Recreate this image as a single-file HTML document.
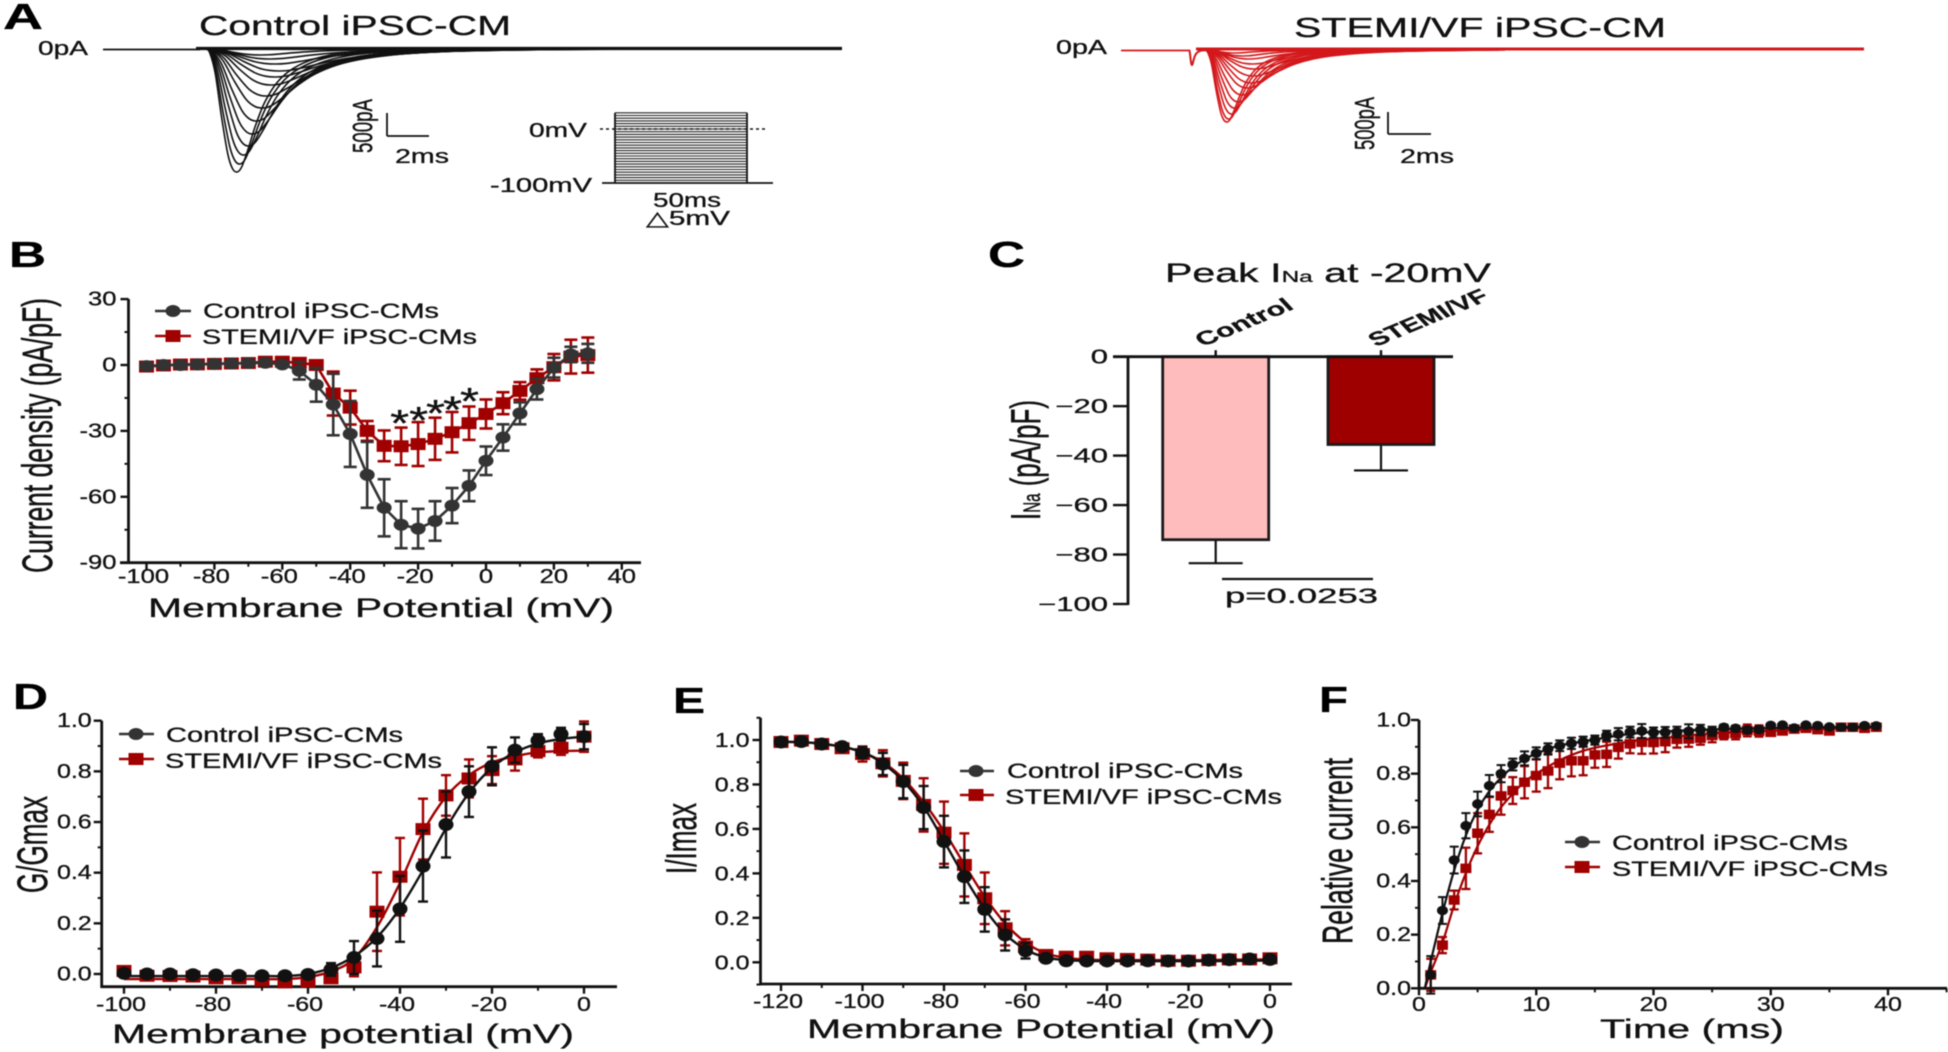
<!DOCTYPE html>
<html lang="en">
<head>
<meta charset="utf-8">
<title>iPSC-CM sodium current figure</title>
<style>
html,body{margin:0;padding:0;background:#fff;width:1948px;height:1052px;overflow:hidden}
svg{display:block;position:absolute;left:0;top:0;filter:blur(0.45px)}
text{font-family:"Liberation Sans",Arial,sans-serif;fill:#111;stroke:#111;stroke-width:.3px}
.pl{font-weight:bold;font-size:36px;fill:#000;stroke:#000}
</style>
</head>
<body>
<svg id="fig" xmlns="http://www.w3.org/2000/svg" width="1948" height="1052" viewBox="0 0 1948 1052">
<rect width="1948" height="1052" fill="#fff"/>

<!-- Panel A static -->
<text class="pl" x="3" y="29" textLength="40" lengthAdjust="spacingAndGlyphs">A</text>
<text x="199" y="35" font-size="28" textLength="312" lengthAdjust="spacingAndGlyphs">Control iPSC-CM</text>
<text x="38" y="55" font-size="20" textLength="50" lengthAdjust="spacingAndGlyphs">0pA</text>
<line x1="387" y1="113" x2="387" y2="136" stroke="#111" stroke-width="1.8"/>
<line x1="387" y1="136" x2="429" y2="136" stroke="#111" stroke-width="1.8"/>
<text transform="translate(372,153) rotate(-90) scale(1,1.45)" font-size="19" textLength="54" lengthAdjust="spacingAndGlyphs">500pA</text>
<text x="395" y="163" font-size="20" textLength="54" lengthAdjust="spacingAndGlyphs">2ms</text>
<text x="529" y="137" font-size="20" textLength="58" lengthAdjust="spacingAndGlyphs">0mV</text>
<text x="490" y="192" font-size="20" textLength="102" lengthAdjust="spacingAndGlyphs">-100mV</text>
<text x="653" y="207" font-size="20" textLength="68" lengthAdjust="spacingAndGlyphs">50ms</text>
<text font-size="20" x="646" y="225" textLength="84" lengthAdjust="spacingAndGlyphs" style="font-family:'Liberation Sans','DejaVu Sans',sans-serif">△5mV</text>
<text x="1294" y="37" font-size="28" textLength="372" lengthAdjust="spacingAndGlyphs">STEMI/VF iPSC-CM</text>
<text x="1056" y="54" font-size="20" textLength="51" lengthAdjust="spacingAndGlyphs">0pA</text>
<line x1="1388" y1="112" x2="1388" y2="134" stroke="#111" stroke-width="1.8"/>
<line x1="1388" y1="134" x2="1431" y2="134" stroke="#111" stroke-width="1.8"/>
<text transform="translate(1374,150) rotate(-90) scale(1,1.45)" font-size="19" textLength="53" lengthAdjust="spacingAndGlyphs">500pA</text>
<text x="1400" y="163" font-size="20" textLength="54" lengthAdjust="spacingAndGlyphs">2ms</text>

<!-- Panel B static -->
<text class="pl" x="9" y="267" textLength="37" lengthAdjust="spacingAndGlyphs">B</text>
<text transform="translate(52,573) rotate(-90) scale(1,1.65)" font-size="26" textLength="275" lengthAdjust="spacingAndGlyphs">Current density (pA/pF)</text>
<text x="148" y="617" font-size="27" textLength="466" lengthAdjust="spacingAndGlyphs">Membrane Potential (mV)</text>
<g>
<line x1="155" y1="311" x2="191" y2="311" stroke="#333" stroke-width="2.4"/>
<ellipse cx="173" cy="311" rx="7.5" ry="6" fill="#333"/>
<text x="203" y="318" font-size="21" textLength="236" lengthAdjust="spacingAndGlyphs">Control iPSC-CMs</text>
<line x1="155" y1="336" x2="191" y2="336" stroke="#a00000" stroke-width="2.4"/>
<rect x="165.5" y="330" width="15" height="12" fill="#a00000"/>
<text x="202" y="344" font-size="21" textLength="275" lengthAdjust="spacingAndGlyphs">STEMI/VF iPSC-CMs</text>
</g>

<!-- Panel C static -->
<text class="pl" x="988" y="267" textLength="37" lengthAdjust="spacingAndGlyphs">C</text>
<text x="1165" y="282" font-size="27" textLength="326" lengthAdjust="spacingAndGlyphs">Peak I<tspan font-size="16">Na</tspan> at -20mV</text>
<text transform="translate(1040,520) rotate(-90) scale(1,1.75)" font-size="24" textLength="120" lengthAdjust="spacingAndGlyphs">I<tspan font-size="14">Na</tspan> (pA/pF)</text>
<line x1="1222" y1="579" x2="1373" y2="579" stroke="#111" stroke-width="2.2"/>
<text x="1225" y="603" font-size="21" textLength="153" lengthAdjust="spacingAndGlyphs">p=0.0253</text>

<!-- Panel D static -->
<text class="pl" x="13" y="709" textLength="35" lengthAdjust="spacingAndGlyphs">D</text>
<text transform="translate(47,893) rotate(-90) scale(1,1.65)" font-size="26" textLength="97" lengthAdjust="spacingAndGlyphs">G/Gmax</text>
<text x="112" y="1043" font-size="27" textLength="462" lengthAdjust="spacingAndGlyphs">Membrane potential (mV)</text>
<g>
<line x1="119" y1="734" x2="154" y2="734" stroke="#333" stroke-width="2.4"/>
<ellipse cx="136" cy="734" rx="7.5" ry="6" fill="#333"/>
<text x="166" y="742" font-size="21" textLength="237" lengthAdjust="spacingAndGlyphs">Control iPSC-CMs</text>
<line x1="119" y1="759" x2="154" y2="759" stroke="#a00000" stroke-width="2.4"/>
<rect x="128.5" y="753" width="15" height="12" fill="#a00000"/>
<text x="165" y="768" font-size="21" textLength="277" lengthAdjust="spacingAndGlyphs">STEMI/VF iPSC-CMs</text>
</g>

<!-- Panel E static -->
<text class="pl" x="673" y="713" textLength="32" lengthAdjust="spacingAndGlyphs">E</text>
<text transform="translate(696,874) rotate(-90) scale(1,1.65)" font-size="26" textLength="71" lengthAdjust="spacingAndGlyphs">I/Imax</text>
<text x="807" y="1038" font-size="27" textLength="468" lengthAdjust="spacingAndGlyphs">Membrane Potential (mV)</text>
<g>
<line x1="960" y1="771" x2="994" y2="771" stroke="#333" stroke-width="2.4"/>
<ellipse cx="976" cy="771" rx="7.5" ry="6" fill="#333"/>
<text x="1007" y="778" font-size="21" textLength="236" lengthAdjust="spacingAndGlyphs">Control iPSC-CMs</text>
<line x1="960" y1="795" x2="994" y2="795" stroke="#a00000" stroke-width="2.4"/>
<rect x="968.5" y="789" width="15" height="12" fill="#a00000"/>
<text x="1005" y="804" font-size="21" textLength="277" lengthAdjust="spacingAndGlyphs">STEMI/VF iPSC-CMs</text>
</g>

<!-- Panel F static -->
<text class="pl" x="1319" y="712" textLength="29" lengthAdjust="spacingAndGlyphs">F</text>
<text transform="translate(1352,944) rotate(-90) scale(1,1.65)" font-size="26" textLength="186" lengthAdjust="spacingAndGlyphs">Relative current</text>
<text x="1600" y="1038" font-size="27" textLength="184" lengthAdjust="spacingAndGlyphs">Time (ms)</text>
<g>
<line x1="1565" y1="842" x2="1600" y2="842" stroke="#333" stroke-width="2.4"/>
<ellipse cx="1582" cy="842" rx="7.5" ry="6" fill="#333"/>
<text x="1612" y="850" font-size="21" textLength="236" lengthAdjust="spacingAndGlyphs">Control iPSC-CMs</text>
<line x1="1565" y1="867" x2="1600" y2="867" stroke="#a00000" stroke-width="2.4"/>
<rect x="1574.5" y="861" width="15" height="12" fill="#a00000"/>
<text x="1612" y="876" font-size="21" textLength="276" lengthAdjust="spacingAndGlyphs">STEMI/VF iPSC-CMs</text>
</g>
</svg>

<script>
/* ---------- Panel A data ---------- */
const aShapeU = [0,.12,.3,.5,.7,.85,1,1.15,1.35,1.6,1.9,2.3,2.8,3.5,4.5,6];
const aShapeV = [0,.03,.2,.55,.85,.97,1,.96,.82,.62,.43,.27,.16,.08,.03,0];
const aControlAmps = [123,115,106,97,85,72,59,47,36,28,22,15,10,6];
const aControlPeakTimes = [31,34,38,43,47,51,57,61,66,70,74,70,65,55];
const aStemiAmps = [72,69,64,58,52,45,38,33,26,19,14,9,6,3];
const aStemiPeakTimes = [22,24,27,30,34,38,43,47,49,50,48,44,38,30];
const aStemiArtifactAmp = [15];
const aStemiArtifactTime = [3];
const aProtocolLevels = [-100,-95,-90,-85,-80,-75,-70,-65,-60,-55,-50,-45,-40,-35,-30,-25,-20,-15,-10,-5,0,5,10,15,20,25,30];

/* ---------- Panel B data ---------- */
const bVoltages = [-100,-95,-90,-85,-80,-75,-70,-65,-60,-55,-50,-45,-40,-35,-30,-25,-20,-15,-10,-5,0,5,10,15,20,25,30];
const bControlMean = [-.5,0,0,.3,.5,.7,.9,1,.3,-2.6,-9,-18,-31.4,-50,-65,-72.7,-74.5,-71,-64,-55,-43.6,-33,-22,-11,-1.2,4.8,5.3];
const bControlErr = [.5,.5,.5,.5,.5,.5,.5,.5,.5,4,7.7,14,15,15,13,10.7,9,9,8,7,6.5,6,5,4.7,4.5,3.5,4.3];
const bStemiMean = [-.7,-.2,.2,.3,.5,.7,.9,1.5,1.5,1,0,-13,-19.4,-30,-36.8,-37,-36,-33.6,-30.6,-26.5,-22.3,-17.4,-11.8,-6,-1,3.8,4.5];
const bStemiErr = [.5,.5,.5,.5,.5,.5,.5,.5,.5,1,1,10,7.7,4.5,7,8.5,10,9.6,9.2,7.6,6.6,5,4,4,6,7.7,8];
const bXTicks = [-100,-80,-60,-40,-20,0,20,40];
const bXTickLabels = ['-100','-80','-60','-40','-20','0','20','40'];
const bXMinorTicks = [-90,-70,-50,-30,-10,10,30];
const bYTicks = [30,0,-30,-60,-90];
const bYTickLabels = ['30','0','-30','-60','-90'];
const bYMinorTicks = [15,-15,-45,-75];
const bStarVoltages = [-25,-20,-15,-10,-5];
const bStarHeights = [-35,-33.7,-30.5,-29,-25];

/* ---------- Panel C data ---------- */
const cCategories = ['Control','STEMI/VF'];
const cMeans = [-74,-35.5];
const cErrors = [9.5,10.5];
const cYTicks = [0,-20,-40,-60,-80,-100];
const cYTickLabels = ['0','-20','-40','-60','-80','-100'];

/* ---------- Panel D data ---------- */
const dVoltages = [-100,-95,-90,-85,-80,-75,-70,-65,-60,-55,-50,-45,-40,-35,-30,-25,-20,-15,-10,-5,0];
const dControlMean = [.003,0,0,-.003,-.004,-.006,-.007,-.007,-.002,.018,.065,.14,.257,.426,.59,.72,.82,.884,.922,.947,.937];
const dControlErr = [.007,.007,.007,.007,.007,.007,.007,.007,.007,.025,.065,.11,.13,.14,.13,.1,.075,.05,.025,.025,.05];
const dControlFit = [-.008,-.008,-.008,-.008,-.008,-.008,-.008,-.008,0,.024,.07,.145,.26,.41,.575,.715,.815,.875,.91,.928,.937];
const dStemiMean = [.012,-.007,-.008,-.01,-.017,-.017,-.026,-.033,-.03,-.017,.026,.246,.384,.572,.705,.772,.805,.847,.88,.893,.937];
const dStemiErr = [.008,.008,.008,.008,.008,.008,.008,.008,.008,.01,.035,.155,.153,.12,.08,.075,.055,.044,.025,.028,.06];
const dStemiFit = [-.02,-.02,-.02,-.02,-.02,-.02,-.02,-.02,-.012,.01,.06,.185,.36,.56,.7,.785,.835,.86,.875,.88,.882];
const dXTicks = [-100,-80,-60,-40,-20,0];
const dXTickLabels = ['-100','-80','-60','-40','-20','0'];
const dXMinorTicks = [-90,-70,-50,-30,-10];
const dYTicks = [1,.8,.6,.4,.2,0];
const dYTickLabels = ['1.0','0.8','0.6','0.4','0.2','0.0'];
const dYMinorTicks = [.9,.7,.5,.3,.1];

/* ---------- Panel E data ---------- */
const eVoltages = [-120,-115,-110,-105,-100,-95,-90,-85,-80,-75,-70,-65,-60,-55,-50,-45,-40,-35,-30,-25,-20,-15,-10,-5,0];
const eControlMean = [.991,.993,.982,.97,.943,.892,.813,.696,.543,.385,.238,.123,.052,.018,.007,.006,.006,.006,.007,.006,.006,.01,.012,.015,.013];
const eControlErr = [.004,.004,.004,.01,.025,.05,.075,.097,.116,.118,.1,.07,.035,.01,.005,.005,.005,.005,.005,.005,.005,.005,.005,.005,.005];
const eControlFit = [.992,.99,.983,.97,.945,.895,.815,.7,.545,.385,.24,.128,.058,.022,.01,.006,.005,.005,.005,.005,.005,.005,.006,.007,.008];
const eStemiMean = [.991,.997,.982,.963,.937,.895,.816,.708,.583,.438,.288,.153,.07,.033,.025,.025,.018,.015,.012,.007,.007,.01,.013,.013,.018];
const eStemiErr = [.004,.004,.004,.012,.034,.059,.082,.12,.14,.142,.116,.077,.034,.015,.008,.008,.008,.008,.008,.008,.008,.008,.008,.008,.008];
const eStemiFit = [.992,.99,.983,.97,.945,.9,.826,.72,.59,.44,.295,.175,.09,.04,.02,.012,.01,.01,.01,.01,.01,.01,.012,.012,.014];
const eXTicks = [-120,-100,-80,-60,-40,-20,0];
const eXTickLabels = ['-120','-100','-80','-60','-40','-20','0'];
const eXMinorTicks = [-110,-90,-70,-50,-30,-10];
const eYTicks = [1,.8,.6,.4,.2,0];
const eYTickLabels = ['1.0','0.8','0.6','0.4','0.2','0.0'];
const eYMinorTicks = [1.1,.9,.7,.5,.3,.1,-.1];

/* ---------- Panel F data ---------- */
const fTimes = [1,2,3,4,5,6,7,8,9,10,11,12,13,14,15,16,17,18,19,20,21,22,23,24,25,26,27,28,29,30,31,32,33,34,35,36,37,38,39];
const fControlMean = [.05,.29,.478,.606,.687,.755,.8,.834,.857,.876,.892,.904,.913,.919,.925,.942,.947,.955,.959,.953,.954,.955,.958,.963,.958,.973,.969,.963,.965,.98,.981,.97,.981,.979,.974,.973,.973,.979,.978];
const fControlErr = [.07,.05,.05,.047,.046,.04,.032,.022,.026,.022,.021,.02,.021,.019,.017,.018,.023,.02,.026,.019,.02,.02,.026,.019,.017,.01,.01,.01,.01,.005,.005,.005,.005,.005,.005,.005,.005,.005,.005];
const fStemiMean = [.05,.161,.329,.447,.578,.648,.717,.737,.768,.793,.81,.839,.848,.848,.87,.872,.898,.911,.917,.916,.919,.928,.929,.932,.942,.948,.95,.961,.959,.954,.959,.966,.969,.964,.959,.973,.973,.969,.973];
const fStemiErr = [.06,.03,.035,.077,.075,.065,.07,.05,.06,.06,.064,.06,.058,.054,.048,.047,.042,.035,.043,.041,.039,.031,.029,.024,.025,.02,.022,.022,.021,.01,.01,.01,.01,.01,.01,.01,.01,.01,.01];
const fFitTimes = [.5,1,2,3,4,5,6,7,8,9,10,12,14,16,18,20,25,30,39];
const fControlFit = [0,.1,.28,.44,.57,.665,.735,.785,.825,.853,.875,.905,.92,.935,.948,.955,.965,.97,.975];
const fStemiFit = [0,.06,.17,.31,.43,.53,.61,.675,.725,.77,.8,.85,.885,.905,.92,.93,.95,.96,.972];
const fXTicks = [0,10,20,30,40];
const fXTickLabels = ['0','10','20','30','40'];
const fXMinorTicks = [5,15,25,35,45];
const fYTicks = [1,.8,.6,.4,.2,0];
const fYTickLabels = ['1.0','0.8','0.6','0.4','0.2','0.0'];
const fYMinorTicks = [.9,.7,.5,.3,.1];

/* ---------- helpers ---------- */
const NS = 'http://www.w3.org/2000/svg';
const fig = document.getElementById('fig');
const RED = '#a00000';
function mk(parent, tag, attrs, name) {
  const el = document.createElementNS(NS, tag);
  for (const k in attrs) el.setAttribute(k, attrs[k]);
  
  
  parent.appendChild(el);
  return el;
}
function group(name) { return mk(fig, 'g', {}, name); }
function linear(d0, p0, d1, p1) { return v => p0 + (v - d0) * (p1 - p0) / (d1 - d0); }
function smoothPath(pts) {
  let d = 'M' + pts[0][0].toFixed(2) + ',' + pts[0][1].toFixed(2);
  for (let i = 0; i < pts.length - 1; i++) {
    const p0 = pts[Math.max(i - 1, 0)], p1 = pts[i], p2 = pts[i + 1], p3 = pts[Math.min(i + 2, pts.length - 1)];
    const c1x = p1[0] + (p2[0] - p0[0]) / 6, c1y = p1[1] + (p2[1] - p0[1]) / 6;
    const c2x = p2[0] - (p3[0] - p1[0]) / 6, c2y = p2[1] - (p3[1] - p1[1]) / 6;
    d += 'C' + c1x.toFixed(2) + ',' + c1y.toFixed(2) + ' ' + c2x.toFixed(2) + ',' + c2y.toFixed(2) + ' ' + p2[0].toFixed(2) + ',' + p2[1].toFixed(2);
  }
  return d;
}
function label(parent, str, x, y, fs, sx, anchor, name) {
  const el = mk(parent, 'text', {transform: 'translate(' + x + ',' + y + ') scale(' + sx + ',1)', 'font-size': fs, 'text-anchor': anchor}, name);
  el.textContent = str;
  return el;
}
function axes(o) {
  const g = group(o.id + '-axes');
  mk(g, 'line', {x1: o.axisX, y1: o.yTop, x2: o.axisX, y2: o.axisY + 1.3, stroke: '#111', 'stroke-width': 2.8}, o.id + '-y-axis');
  mk(g, 'line', {x1: o.xLeft, y1: o.axisY, x2: o.xRight, y2: o.axisY, stroke: '#111', 'stroke-width': 2.8}, o.id + '-x-axis');
  o.yTicks.forEach((v, i) => {
    mk(g, 'line', {x1: o.axisX - 8, y1: o.ys(v), x2: o.axisX, y2: o.ys(v), stroke: '#111', 'stroke-width': 2.4}, o.id + '-y-tick');
    label(g, o.yLabels[i], o.axisX - o.yLabelGap, o.ys(v) + o.yLabelDy, o.fs, o.sx, 'end', o.id + '-y-tick-label');
  });
  o.yMinor.forEach(v => {
    mk(g, 'line', {x1: o.axisX - 4, y1: o.ys(v), x2: o.axisX, y2: o.ys(v), stroke: '#111', 'stroke-width': 2}, o.id + '-y-minor-tick');
  });
  o.xTicks.forEach((v, i) => {
    mk(g, 'line', {x1: o.xs(v), y1: o.axisY, x2: o.xs(v), y2: o.axisY + 7, stroke: '#111', 'stroke-width': 2.4}, o.id + '-x-tick');
    const shift = o.xLabels[i].charAt(0) === '-' ? -3 : 0;
    label(g, o.xLabels[i], o.xs(v) + shift, o.xLabelY, o.fs, o.sx, 'middle', o.id + '-x-tick-label');
  });
  o.xMinor.forEach(v => {
    mk(g, 'line', {x1: o.xs(v), y1: o.axisY, x2: o.xs(v), y2: o.axisY + 4, stroke: '#111', 'stroke-width': 2}, o.id + '-x-minor-tick');
  });
}
function errorBars(g, xsv, mean, err, xs, ys, color, capW, sw, name) {
  xsv.forEach((v, i) => {
    const x = xs(v), y1 = ys(mean[i] + err[i]), y2 = ys(mean[i] - err[i]);
    mk(g, 'line', {x1: x, y1: y1, x2: x, y2: y2, stroke: color, 'stroke-width': sw}, name + '-error-bar');
    mk(g, 'line', {x1: x - capW, y1: y1, x2: x + capW, y2: y1, stroke: color, 'stroke-width': sw}, name + '-error-cap');
    mk(g, 'line', {x1: x - capW, y1: y2, x2: x + capW, y2: y2, stroke: color, 'stroke-width': sw}, name + '-error-cap');
  });
}
function circles(g, xsv, mean, xs, ys, color, rx, ry, name) {
  xsv.forEach((v, i) => {
    mk(g, 'ellipse', {cx: xs(v), cy: ys(mean[i]), rx: rx, ry: ry, fill: color}, name + '-point');
  });
}
function squares(g, xsv, mean, xs, ys, color, w, h, name) {
  xsv.forEach((v, i) => {
    mk(g, 'rect', {x: xs(v) - w / 2, y: ys(mean[i]) - h / 2, width: w, height: h, fill: color}, name + '-point');
  });
}
function curve(g, xsv, vals, xs, ys, color, sw, name) {
  mk(g, 'path', {d: smoothPath(xsv.map((v, i) => [xs(v), ys(vals[i])])), fill: 'none', stroke: color, 'stroke-width': sw}, name);
}
function polyline(g, xsv, vals, xs, ys, color, sw, name) {
  mk(g, 'polyline', {points: xsv.map((v, i) => xs(v) + ',' + ys(vals[i])).join(' '), fill: 'none', stroke: color, 'stroke-width': sw}, name);
}

/* ---------- Panel A ---------- */
function sweep(g, onset, base, amp, T, color, sw, name) {
  const pts = aShapeU.map((u, i) => [onset + u * T, base + aShapeV[i] * amp]);
  mk(g, 'path', {d: smoothPath(pts), fill: 'none', stroke: color, 'stroke-width': sw}, name);
}
(function () {
  const g = group('control-current-traces');
  mk(g, 'line', {x1: 103, y1: 49.5, x2: 200, y2: 49.5, stroke: '#111', 'stroke-width': 1.8}, 'control-baseline');
  mk(g, 'line', {x1: 196, y1: 48.5, x2: 842, y2: 48.5, stroke: '#111', 'stroke-width': 3.2}, 'control-baseline-sweeps');
  aControlAmps.forEach((amp, i) => sweep(g, 206, 49, amp, aControlPeakTimes[i], '#111', 1.6, 'control-sweep'));
  const r = group('stemi-current-traces');
  mk(r, 'line', {x1: 1121, y1: 50.5, x2: 1190, y2: 50.5, stroke: '#d3181b', 'stroke-width': 1.8}, 'stemi-baseline');
  mk(r, 'line', {x1: 1196, y1: 49, x2: 1864, y2: 49, stroke: '#d3181b', 'stroke-width': 3}, 'stemi-baseline-sweeps');
  sweep(r, 1189, 50, aStemiArtifactAmp[0], aStemiArtifactTime[0], '#d3181b', 2, 'stemi-artifact');
  aStemiAmps.forEach((amp, i) => sweep(r, 1205, 50, amp, aStemiPeakTimes[i], '#d3181b', 1.6, 'stemi-sweep'));

  const p = group('voltage-protocol');
  const vy = linear(0, 129, -100, 183);
  aProtocolLevels.forEach(mv => {
    mk(p, 'line', {x1: 615, y1: vy(mv), x2: 747, y2: vy(mv), stroke: '#222', 'stroke-width': 1.1}, 'protocol-step');
  });
  mk(p, 'line', {x1: 615, y1: vy(30), x2: 615, y2: vy(-100), stroke: '#111', 'stroke-width': 1.8}, 'protocol-left-edge');
  mk(p, 'line', {x1: 747, y1: vy(30), x2: 747, y2: vy(-100), stroke: '#111', 'stroke-width': 1.8}, 'protocol-right-edge');
  mk(p, 'line', {x1: 602, y1: vy(-100), x2: 773, y2: vy(-100), stroke: '#111', 'stroke-width': 1.8}, 'protocol-holding-line');
  mk(p, 'line', {x1: 600, y1: vy(0), x2: 768, y2: vy(0), stroke: '#111', 'stroke-width': 1.4, 'stroke-dasharray': '3 3'}, 'protocol-zero-line');
})();

/* ---------- Panel B ---------- */
(function () {
  const xs = linear(0, 486, 20, 553.9), ys = linear(0, 365, -30, 430.9);
  axes({id: 'b', axisX: 128.5, axisY: 562.7, yTop: 299, xLeft: 120, xRight: 641, xs, ys,
    yTicks: bYTicks, yLabels: bYTickLabels, yMinor: bYMinorTicks, xTicks: bXTicks, xLabels: bXTickLabels, xMinor: bXMinorTicks,
    fs: 20, sx: 1.28, yLabelGap: 12, yLabelDy: 6.5, xLabelY: 583});
  const g = group('b-series');
  errorBars(g, bVoltages, bStemiMean, bStemiErr, xs, ys, RED, 6.5, 2.6, 'b-stemi');
  polyline(g, bVoltages, bStemiMean, xs, ys, RED, 2.6, 'b-stemi-line');
  squares(g, bVoltages, bStemiMean, xs, ys, RED, 15, 12, 'b-stemi');
  errorBars(g, bVoltages, bControlMean, bControlErr, xs, ys, '#333', 6.5, 2.6, 'b-control');
  polyline(g, bVoltages, bControlMean, xs, ys, '#333', 2.6, 'b-control-line');
  circles(g, bVoltages, bControlMean, xs, ys, '#333', 7.5, 6, 'b-control');
  bStarVoltages.forEach((v, i) => {
    const el = mk(g, 'text', {x: xs(v) - 9 + (i < 1 ? -2 : 0), y: ys(bStarHeights[i]) - 6, 'font-size': 38, textLength: 19, lengthAdjust: 'spacingAndGlyphs'}, 'b-significance-star');
    el.textContent = '*';
  });
})();

/* ---------- Panel C ---------- */
(function () {
  const ys = linear(0, 356.7, -100, 604);
  const xc = [1215.7, 1381];
  const g = group('c-chart');
  cMeans.forEach((m, i) => {
    mk(g, 'line', {x1: xc[i], y1: ys(m), x2: xc[i], y2: ys(m - cErrors[i]), stroke: '#111', 'stroke-width': 2.2}, 'c-error-bar');
    mk(g, 'line', {x1: xc[i] - 27, y1: ys(m - cErrors[i]), x2: xc[i] + 27, y2: ys(m - cErrors[i]), stroke: '#111', 'stroke-width': 2.2}, 'c-error-cap');
    mk(g, 'rect', {x: xc[i] - 53, y: ys(0), width: 106, height: ys(m) - ys(0), fill: i ? '#9e0000' : '#ffbcbc', stroke: '#1a1a1a', 'stroke-width': 2.8}, 'c-bar-' + cCategories[i].toLowerCase().replace('/', '-'));
    mk(g, 'line', {x1: xc[i], y1: ys(0) - 6.5, x2: xc[i], y2: ys(0), stroke: '#111', 'stroke-width': 2.4}, 'c-x-tick');
    const el = mk(g, 'text', {transform: 'translate(' + (xc[i] - 13 + (i ? 8 : 0)) + ',' + 347 + ') scale(1.5,1) rotate(-32)', 'font-size': 19, 'font-weight': 'bold', textLength: i ? 90 : 72.6, lengthAdjust: 'spacingAndGlyphs'}, 'c-category-label');
    el.textContent = cCategories[i];
  });
  mk(g, 'line', {x1: 1128, y1: ys(0), x2: 1128, y2: ys(-100) + 1, stroke: '#111', 'stroke-width': 2.8}, 'c-y-axis');
  mk(g, 'line', {x1: 1113, y1: ys(0), x2: 1453, y2: ys(0), stroke: '#111', 'stroke-width': 2.8}, 'c-x-axis');
  cYTicks.forEach((v, i) => {
    mk(g, 'line', {x1: 1113, y1: ys(v), x2: 1128, y2: ys(v), stroke: '#111', 'stroke-width': 2.4}, 'c-y-tick');
    label(g, cYTickLabels[i].replace('-', '\u2212'), 1108, ys(v) + 6.8, 20, 1.55, 'end', 'c-y-tick-label');
  });
})();

/* ---------- Panel D ---------- */
(function () {
  const xs = linear(-100, 124, 0, 584), ys = linear(0, 974, 1, 720.7);
  axes({id: 'd', axisX: 101.7, axisY: 986.7, yTop: 720.7, xLeft: 100.5, xRight: 617, xs, ys,
    yTicks: dYTicks, yLabels: dYTickLabels, yMinor: dYMinorTicks, xTicks: dXTicks, xLabels: dXTickLabels, xMinor: dXMinorTicks,
    fs: 20, sx: 1.25, yLabelGap: 10, yLabelDy: 6.5, xLabelY: 1011});
  const g = group('d-series');
  errorBars(g, dVoltages, dStemiMean, dStemiErr, xs, ys, RED, 5, 2.4, 'd-stemi');
  squares(g, dVoltages, dStemiMean, xs, ys, RED, 15, 12, 'd-stemi');
  curve(g, dVoltages, dStemiFit, xs, ys, RED, 2.4, 'd-stemi-fit');
  errorBars(g, dVoltages, dControlMean, dControlErr, xs, ys, '#111', 5, 2.4, 'd-control');
  curve(g, dVoltages, dControlFit, xs, ys, '#111', 2.4, 'd-control-fit');
  circles(g, dVoltages, dControlMean, xs, ys, '#111', 7.5, 6.5, 'd-control');
})();

/* ---------- Panel E ---------- */
(function () {
  const xs = linear(-120, 781, 0, 1270), ys = linear(0, 962.3, 1, 740);
  axes({id: 'e', axisX: 760.5, axisY: 984, yTop: 717.7, xLeft: 759.5, xRight: 1292, xs, ys,
    yTicks: eYTicks, yLabels: eYTickLabels, yMinor: eYMinorTicks, xTicks: eXTicks, xLabels: eXTickLabels, xMinor: eXMinorTicks,
    fs: 20, sx: 1.25, yLabelGap: 11, yLabelDy: 7, xLabelY: 1008});
  const g = group('e-series');
  errorBars(g, eVoltages, eStemiMean, eStemiErr, xs, ys, RED, 5, 2.4, 'e-stemi');
  squares(g, eVoltages, eStemiMean, xs, ys, RED, 15, 12, 'e-stemi');
  curve(g, eVoltages, eStemiFit, xs, ys, RED, 2.4, 'e-stemi-fit');
  errorBars(g, eVoltages, eControlMean, eControlErr, xs, ys, '#111', 5, 2.4, 'e-control');
  curve(g, eVoltages, eControlFit, xs, ys, '#111', 2.4, 'e-control-fit');
  circles(g, eVoltages, eControlMean, xs, ys, '#111', 7.5, 6.5, 'e-control');
})();

/* ---------- Panel F ---------- */
(function () {
  const xs = linear(0, 1419, 40, 1888), ys = linear(0, 988.3, 1, 720);
  axes({id: 'f', axisX: 1419, axisY: 988.3, yTop: 720, xLeft: 1418, xRight: 1947, xs, ys,
    yTicks: fYTicks, yLabels: fYTickLabels, yMinor: fYMinorTicks, xTicks: fXTicks, xLabels: fXTickLabels, xMinor: fXMinorTicks,
    fs: 20, sx: 1.25, yLabelGap: 8, yLabelDy: 6.5, xLabelY: 1011});
  const g = group('f-series');
  errorBars(g, fTimes, fStemiMean, fStemiErr, xs, ys, RED, 4.5, 2.3, 'f-stemi');
  squares(g, fTimes, fStemiMean, xs, ys, RED, 11, 9.5, 'f-stemi');
  curve(g, fFitTimes, fStemiFit, xs, ys, RED, 2.2, 'f-stemi-fit');
  errorBars(g, fTimes, fControlMean, fControlErr, xs, ys, '#111', 4.5, 2, 'f-control');
  curve(g, fFitTimes, fControlFit, xs, ys, '#111', 2.2, 'f-control-fit');
  circles(g, fTimes, fControlMean, xs, ys, '#111', 5.5, 4.8, 'f-control');
})();
</script>
</body>
</html>
